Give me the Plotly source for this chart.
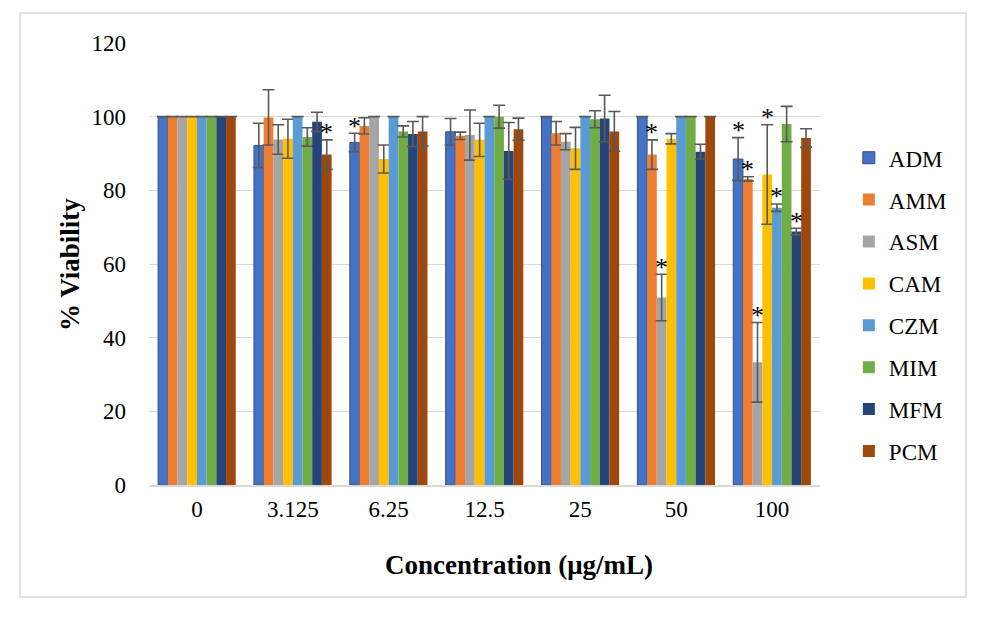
import plotly.graph_objects as go

categories = ["0", "3.125", "6.25", "12.5", "25", "50", "100"]
series_names = ["ADM", "AMM", "ASM", "CAM", "CZM", "MIM", "MFM", "PCM"]

ADM = [100, 92.2, 93.0, 95.9, 100, 100, 88.5]
AMM = [100, 99.8, 97.5, 94.8, 95.5, 89.7, 83.1]
ASM = [100, 93.8, 100, 95.0, 93.2, 50.9, 33.3]
CAM = [100, 94.0, 88.5, 93.7, 91.4, 94.0, 84.3]
CZM = [100, 100, 100, 100, 100, 100, 75.3]
MIM = [100, 94.5, 96.0, 100, 99.3, 100, 98.0]
MFM = [100, 98.6, 95.3, 90.7, 99.5, 90.5, 68.8]
PCM = [100, 89.7, 96.0, 96.6, 96.0, 100, 94.2]

ADM_err = [0, 6.0, 2.5, 3.6, 0, 0, 5.8]
AMM_err = [0, 7.5, 2.2, 1.0, 3.2, 4.0, 0.6]
ASM_err = [0, 4.0, 0, 6.8, 2.2, 6.3, 10.8]
CAM_err = [0, 5.3, 3.8, 4.5, 5.7, 1.4, 13.5]
CZM_err = [0, 0, 0, 0, 0, 0, 1.0]
MIM_err = [0, 2.5, 1.5, 3.1, 2.3, 0, 4.8]
MFM_err = [0, 2.6, 3.4, 7.7, 6.3, 2.0, 0.9]
PCM_err = [0, 4.0, 4.0, 3.0, 5.4, 0, 2.5]

# significance markers (*) per series, by category
ADM_sig = [0, 0, 1, 0, 0, 0, 1]
AMM_sig = [0, 0, 0, 0, 0, 1, 1]
ASM_sig = [0, 0, 0, 0, 0, 1, 1]
CAM_sig = [0, 0, 0, 0, 0, 0, 1]
CZM_sig = [0, 0, 0, 0, 0, 0, 1]
MIM_sig = [0, 0, 0, 0, 0, 0, 0]
MFM_sig = [0, 0, 0, 0, 0, 0, 1]
PCM_sig = [0, 1, 0, 0, 0, 0, 0]

x_title = "Concentration (μg/mL)"
y_title = "% Viability"

values = [ADM, AMM, ASM, CAM, CZM, MIM, MFM, PCM]
errors = [ADM_err, AMM_err, ASM_err, CAM_err, CZM_err, MIM_err, MFM_err, PCM_err]
sigs = [ADM_sig, AMM_sig, ASM_sig, CAM_sig, CZM_sig, MIM_sig, MFM_sig, PCM_sig]
colors = ["#4472C4", "#ED7D31", "#A5A5A5", "#FFC000", "#5B9BD5", "#70AD47", "#264478", "#9E480E"]

FONT = "Liberation Serif, Times New Roman, serif"
BARGAP = 0.19

fig = go.Figure()
for j, name in enumerate(series_names):
    fig.add_trace(go.Bar(
        x=categories, y=values[j], name=name,
        marker=dict(color=colors[j],
                    line=dict(color="#2F528F" if j == 0 else colors[j], width=1 if j == 0 else 0)),
        error_y=dict(type="data", array=errors[j], visible=True,
                     color="#595959", thickness=1.6, width=6),
        legendgroup=name,
    ))

n = len(series_names)
bw = (1 - BARGAP) / n
annotations = []
for j in range(n):
    for i, c in enumerate(categories):
        if sigs[j][i]:
            annotations.append(dict(
                x=i + (j - (n - 1) / 2) * bw, y=values[j][i] + errors[j][i],
                xref="x", yref="y", text="*", showarrow=False,
                font=dict(family=FONT, size=26, color="#000"),
                yanchor="middle", yshift=7,
            ))

annotations.append(dict(
    text="<b>" + x_title + "</b>", xref="paper", yref="paper",
    x=0.552, y=-0.181, xanchor="center", yanchor="middle", showarrow=False,
    font=dict(family=FONT, size=27, color="#000"),
))
annotations.append(dict(
    text="<b>" + y_title + "</b>", xref="paper", yref="paper",
    x=-0.1177, y=0.498, xanchor="center", yanchor="middle", showarrow=False,
    textangle=-90, font=dict(family=FONT, size=27, color="#000"),
))

fig.update_layout(
    width=981, height=618,
    margin=dict(l=149, r=161, t=43, b=133),
    paper_bgcolor="white", plot_bgcolor="white",
    barmode="group", bargap=BARGAP, bargroupgap=0,
    font=dict(family=FONT, size=23, color="#000"),
    showlegend=True,
    legend=dict(x=1.043, y=0.789, xanchor="left", yanchor="top",
                font=dict(family=FONT, size=23, color="#000"),
                tracegroupgap=9, bgcolor="rgba(0,0,0,0)"),
    annotations=annotations,
    shapes=[dict(type="rect", xref="paper", yref="paper",
                 x0=-0.1922, x1=1.2176, y0=-0.2534, y1=1.0679,
                 line=dict(color="#D9D9D9", width=1.5), layer="below")],
)
fig.update_xaxes(
    type="category", showgrid=False, showline=True, linecolor="#D9D9D9", linewidth=1.5,
    ticks="", ticklabelstandoff=3, tickfont=dict(family=FONT, size=23, color="#000"),
)
fig.update_yaxes(
    range=[0, 120], tickvals=[0, 20, 40, 60, 80, 100, 120], showgrid=True,
    gridcolor="#D9D9D9", gridwidth=1, zeroline=False, showline=False,
    ticks="", ticklabelstandoff=22, tickfont=dict(family=FONT, size=23, color="#000"),
)

fig.write_html("out.html")
